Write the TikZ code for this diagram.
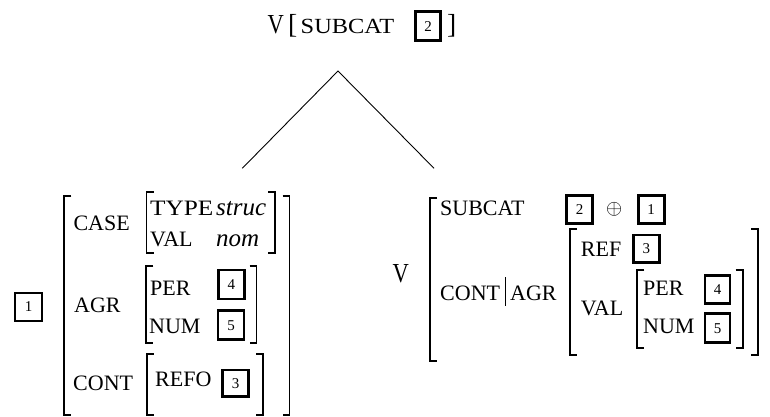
\documentclass[tikz,border=0pt]{standalone}
\usepackage{fontspec}
\setmainfont{Liberation Serif}
% attribute-value matrix brackets: x, top y, bottom y
\newcommand\avmLeft[3]{\draw[brak] (#1+7,#2) -- (#1,#2) -- (#1,#3) -- (#1+7,#3);}
\newcommand\avmRight[3]{\draw[brak] (#1-7,#2) -- (#1,#2) -- (#1,#3) -- (#1-7,#3);}
% narrow category letter
\newcommand\catV{\scalebox{0.82}[1]{V}}
\begin{document}
\begin{tikzpicture}[x=1pt,y=-1pt,
  lbl/.style={inner sep=0pt,anchor=base west,font=\fontsize{22pt}{26pt}\selectfont},
  ital/.style={inner sep=0pt,anchor=base west,font=\fontsize{25pt}{29pt}\selectfont\itshape},
  big/.style={inner sep=0pt,anchor=base west,font=\fontsize{27.5pt}{32pt}\selectfont},
  tagbox/.style={draw,line width=2.7pt,inner sep=0pt,minimum width=26pt,minimum height=28pt,
    font=\fontsize{15pt}{17pt}\selectfont},
  brak/.style={line width=1.8pt},
  branch/.style={line width=0.9pt}]
\useasboundingbox (0,0) rectangle (770,416);

% mother node
\node[big] (mV) at (267.5,33.3) {\catV};
\node[big] (mLb) at (288,33.3) {[};
\node[lbl] (mSub) at (300.5,33.3) {\fontsize{21.6pt}{26pt}\selectfont\scalebox{1.13}[1]{SUBCAT}};
\node[tagbox,minimum width=25pt,minimum height=29pt] (mTag) at (428.2,26.3) {2};
\node[big] (mRb) at (447,33.3) {]};

% branches
\coordinate (apex) at (338,71);
\coordinate (footL) at (242.3,168.3);
\coordinate (footR) at (434,168.3);
\draw[branch] (footL) -- (apex) -- (footR);

% left daughter
\node[tagbox,minimum width=27pt] (t1) at (28.5,307) {1};
\avmLeft{64.3}{195.7}{415}
\avmRight{289.5}{195.7}{415}
\node[lbl] (case) at (73.3,230.7) {CASE};
\avmLeft{146.5}{192}{253}
\avmRight{275}{192}{253}
\node[lbl] (type) at (150,215) {\scalebox{1.15}[1]{TYPE}};
\node[ital] (struc) at (216,215) {struc};
\node[lbl] (val) at (150,246.7) {VAL};
\node[ital] (nom) at (216,246.7) {nom};
\node[lbl] (agr) at (74,312.5) {AGR};
\avmLeft{146.3}{266}{343.3}
\avmRight{256.5}{266}{343.3}
\node[lbl] (per) at (150,295) {PER};
\node[tagbox,minimum height=29pt] (t4) at (231.3,284.5) {4};
\node[lbl] (num) at (149,333.3) {NUM};
\node[tagbox,minimum height=29pt] (t5) at (231,325.3) {5};
\node[lbl] (cont) at (73,390.7) {CONT};
\avmLeft{146.7}{354}{415}
\avmRight{263.3}{354}{415}
\node[lbl] (refo) at (155,386.7) {REFO};
\node[tagbox,minimum height=26.7pt] (t3) at (235.5,383.3) {3};

% right daughter
\node[big] (dV) at (392.5,282.7) {\catV};
\avmLeft{430}{198.3}{361}
\node[lbl] (sub) at (440,215) {SUBCAT};
\node[tagbox,line width=3.2pt] (r2) at (579.5,209.2) {2};
\node[inner sep=0pt,font=\fontsize{22pt}{26pt}\selectfont] (plus) at (614.3,209.3) {$\oplus$};
\node[tagbox] (r1) at (651.2,209.2) {1};
\node[lbl] (rcont) at (440,300) {CONT};
\coordinate (barT) at (505,277);
\coordinate (barB) at (505,306);
\draw[line width=1pt] (barT) -- (barB);
\node[lbl] (ragr) at (510,300) {AGR};
\avmLeft{570}{229}{355}
\avmRight{758.3}{229}{355}
\node[lbl] (ref) at (580.7,256.7) {REF};
\node[tagbox,minimum height=27.7pt] (r3) at (646.3,248.8) {3};
\node[lbl] (rval) at (580.7,315) {VAL};
\avmLeft{637.3}{270}{348.3}
\avmRight{742.7}{270}{348.3}
\node[lbl] (rper) at (643,295) {PER};
\node[tagbox,minimum width=25pt] (r4) at (717.5,289.2) {4};
\node[lbl] (rnum) at (643,333.3) {NUM};
\node[tagbox,minimum width=25pt,minimum height=29pt] (r5) at (717.5,328.3) {5};
\end{tikzpicture}
\end{document}
